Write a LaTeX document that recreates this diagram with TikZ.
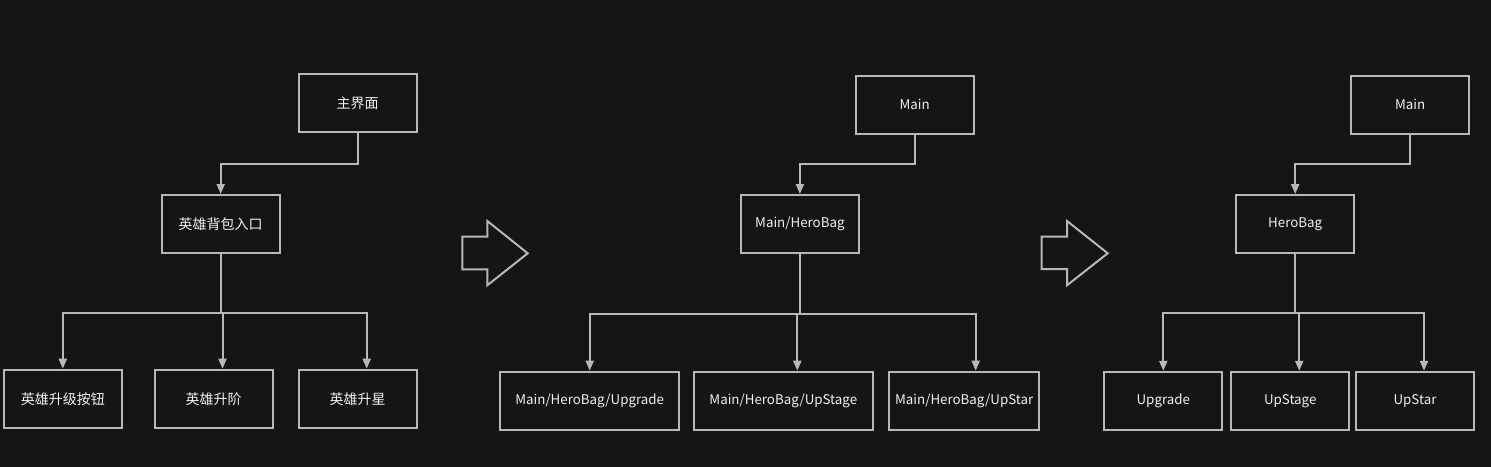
\documentclass[tikz,border=0pt]{standalone}
\usepackage{fontspec}
\setmainfont{Noto Sans CJK SC}
\usepackage{xcolor}
\usetikzlibrary{arrows.meta, calc}
\definecolor{bgcol}{RGB}{21, 21, 21}
\definecolor{linecol}{RGB}{184, 184, 184}
\definecolor{txtcol}{RGB}{240, 240, 240}

\tikzset{
 box/.style={draw=linecol, line width=1.5pt, fill=bgcol, text=txtcol, inner sep=0pt,
  minimum width=88.5pt, minimum height=43.5pt, font=\fontsize{10.5}{12}\selectfont},
 latin/.style={box, font=\fontsize{10}{12}\selectfont},
 wide/.style={latin, minimum width=134pt},
 conn/.style={draw=linecol, line width=1.5pt},
 arr/.style={conn, -{Triangle[length=7.5pt, width=6pt]}},
 bigarrow/.style={draw=linecol, line width=1.5pt, line join=miter}
}

\begin{document}
\begin{tikzpicture}[x=0.75pt, y=-0.75pt]
%background
\fill[bgcol] (0,0) rectangle (1491,467);

%first tree
\node[box] (hub1) at (357.5,103) {主界面};
\node[box] (bag1) at (220.7,224) {英雄背包入口};
\node[box] (up1) at (62.8,398.7) {英雄升级按钮};
\node[box] (stage1) at (213.5,398.7) {英雄升阶};
\node[box] (star1) at (357.7,398.7) {英雄升星};
\draw[arr] (hub1.south) -- ++(0,30.5) -| (bag1.north);
\draw[conn] (bag1.south) -- ++(0,58.5) coordinate (j1);
\draw[arr] (j1) -| (up1.north);
\draw[arr] (j1) -| ($(stage1.north)+(9,0)$);
\draw[arr] (j1) -| ($(star1.north)+(9,0)$);

%arrow
\draw[bigarrow] (462.3,236.7) -- (487.3,236.7) -- (487.3,221) -- (527.7,253.3)
 -- (487.3,285.3) -- (487.3,269.3) -- (462.3,269.3) -- cycle;

%second tree
\node[latin] (hub2) at (914.7,104.8) {Main};
\node[latin] (bag2) at (799.9,224) {Main/HeroBag};
\node[wide] (up2) at (589.7,400.7) {Main/HeroBag/Upgrade};
\node[wide] (stage2) at (783.3,400.7) {Main/HeroBag/UpStage};
\node[latin, minimum width=112.3pt] (star2) at (964.2,400.7) {Main/HeroBag/UpStar};
\draw[arr] (hub2.south) -- ++(0,29.5) -| (bag2.north);
\draw[conn] (bag2.south) -- ++(0,59.7) coordinate (j2);
\draw[arr] (j2) -| (up2.north);
\draw[arr] (j2) -| ($(stage2.north)+(14,0)$);
\draw[arr] (j2) -| ($(star2.north)+(11.5,0)$);

%arrow
\draw[bigarrow] (1041.7,236.7) -- (1067,236.7) -- (1067,221) -- (1107.7,253.3)
 -- (1067,285.3) -- (1067,269) -- (1041.7,269) -- cycle;

%third tree
\node[latin] (hub3) at (1410.2,104.8) {Main};
\node[latin] (bag3) at (1295.2,224) {HeroBag};
\node[latin] (up3) at (1163.3,400.8) {Upgrade};
\node[latin] (stage3) at (1290.2,400.8) {UpStage};
\node[latin] (star3) at (1415,400.8) {UpStar};
\draw[arr] (hub3.south) -- ++(0,29.5) -| (bag3.north);
\draw[conn] (bag3.south) -- ++(0,59.3) coordinate (j3);
\draw[arr] (j3) -| (up3.north);
\draw[arr] (j3) -| ($(stage3.north)+(9,0)$);
\draw[arr] (j3) -| ($(star3.north)+(9,0)$);
\end{tikzpicture}
\end{document}
